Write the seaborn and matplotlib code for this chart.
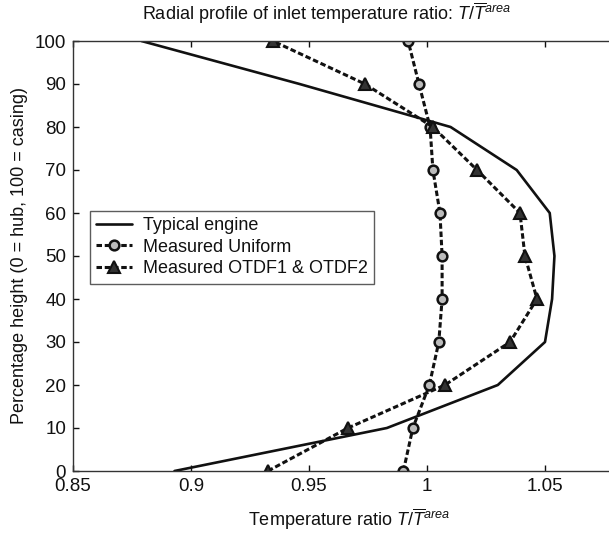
import matplotlib
matplotlib.use("Agg")
import matplotlib.pyplot as plt
import seaborn as sns
import pandas as pd

heights = [0, 10, 20, 30, 40, 50, 60, 70, 80, 90, 100]
typical_engine = [0.893, 0.983, 1.030, 1.050, 1.053, 1.054, 1.052, 1.038, 1.010, 0.946, 0.879]
measured_uniform = [0.990, 0.994, 1.001, 1.005, 1.0064, 1.0064, 1.0055, 1.0025, 1.0013, 0.9966, 0.992]
measured_otdf = [0.9326, 0.9665, 1.0076, 1.0352, 1.0466, 1.0415, 1.0394, 1.0212, 1.0025, 0.9737, 0.9347]

x_ticks = [0.85, 0.9, 0.95, 1.0, 1.05]
x_tick_labels = ["0.85", "0.9", "0.95", "1", "1.05"]
y_ticks = [0, 10, 20, 30, 40, 50, 60, 70, 80, 90, 100]

sns.set_theme(style="ticks")
plt.rcParams["font.family"] = ["Liberation Sans", "DejaVu Sans"]
plt.rcParams["mathtext.fontset"] = "custom"
plt.rcParams["mathtext.it"] = "Liberation Sans:italic"
plt.rcParams["mathtext.rm"] = "Liberation Sans"

fig = plt.figure(figsize=(6.09, 5.35), dpi=100)
ax = fig.add_axes([73 / 609, 64 / 535, 552 / 609, 430 / 535])

df_t = pd.DataFrame({"T": typical_engine, "h": heights})
df_u = pd.DataFrame({"T": measured_uniform, "h": heights})
df_o = pd.DataFrame({"T": measured_otdf, "h": heights})

sns.lineplot(data=df_t, x="T", y="h", sort=False, estimator=None, ax=ax,
             color="#111111", linewidth=1.9, label="Typical engine")
sns.lineplot(data=df_u, x="T", y="h", sort=False, estimator=None, ax=ax,
             color="#111111", linewidth=2.2, linestyle=(0, (1.8, 0.9)),
             marker="o", markersize=7, markerfacecolor="#bbbbbb",
             markeredgecolor="#111111", markeredgewidth=1.8, label="Measured Uniform")
sns.lineplot(data=df_o, x="T", y="h", sort=False, estimator=None, ax=ax,
             color="#111111", linewidth=2.2, linestyle=(0, (1.8, 0.9)),
             marker="^", markersize=8, markerfacecolor="#333333",
             markeredgecolor="#111111", markeredgewidth=1.5,
             label="Measured OTDF1 & OTDF2")

ax.set_xlim(0.85, 0.85 + 552 / 118 * 0.05)
ax.set_ylim(0, 100)
ax.set_xticks(x_ticks)
ax.set_xticklabels(x_tick_labels)
ax.set_yticks(y_ticks)
ax.tick_params(direction="in", length=4, width=1, colors="#111111",
               labelsize=13.5, top=True, right=True, pad=5)
for s in ax.spines.values():
    s.set_color("#333333")
    s.set_linewidth(1.0)

ax.set_title(r"Radial profile of inlet temperature ratio: $T/\overline{T}^{area}$",
             fontsize=13, pad=15, color="#111111", x=0.46)
ax.set_xlabel(r"Temperature ratio $T/\overline{T}^{area}$", fontsize=13,
              color="#111111", labelpad=8)
ax.set_ylabel("Percentage height (0 = hub, 100 = casing)", fontsize=13,
              color="#111111", labelpad=5)

leg = ax.legend(loc="upper left", bbox_to_anchor=(0.03, 0.605), fontsize=13,
                frameon=True, fancybox=False, edgecolor="#333333",
                handlelength=2.0, handletextpad=0.6, borderpad=0.35,
                labelspacing=0.25, borderaxespad=0)
leg.get_frame().set_linewidth(1.0)
for t in leg.get_texts():
    t.set_color("#111111")

fig.savefig("out.png", dpi=100)
